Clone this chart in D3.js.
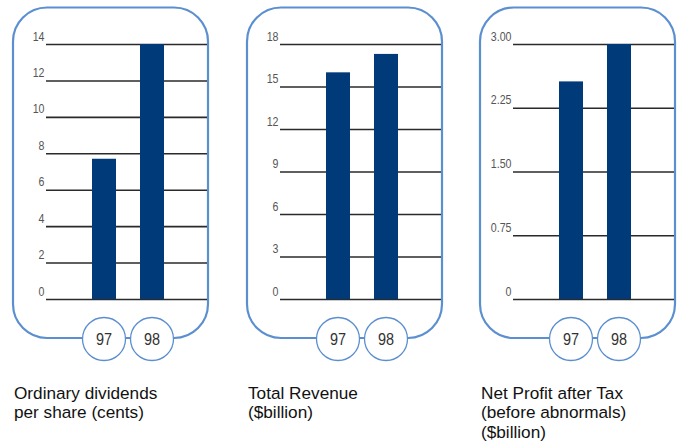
<!DOCTYPE html>
<html>
<head>
<meta charset="utf-8">
<script src="https://cdn.jsdelivr.net/npm/d3@7"></script>
<style>
  html, body { margin: 0; padding: 0; background: #fff; }
  svg { display: block; }
  .sans { font-family: 'Liberation Sans', Arial, sans-serif; }
</style>
</head>
<body>
<svg id="chart" width="680" height="447"></svg>
<script>
// Financial highlights, 1997 vs 1998
const years = ["97", "98"];

const dividends = [7.7, 14];          // cents per share
const revenue = [16.0, 17.3];         // $billion
const netProfit = [2.56, 3.0];        // $billion

const dividendTicks = [0, 2, 4, 6, 8, 10, 12, 14];
const revenueTicks = [0, 3, 6, 9, 12, 15, 18];
const profitTicks = [0, 0.75, 1.5, 2.25, 3.0];
const profitTickLabels = ["0", "0.75", "1.50", "2.25", "3.00"];

const dividendTitle = ["Ordinary dividends", "per share (cents)"];
const revenueTitle = ["Total Revenue", "($billion)"];
const profitTitle = ["Net Profit after Tax", "(before abnormals)", "($billion)"];

const panels = [
  { values: dividends, ticks: dividendTicks, labels: dividendTicks.map(String), max: 14, title: dividendTitle },
  { values: revenue, ticks: revenueTicks, labels: revenueTicks.map(String), max: 18, title: revenueTitle },
  { values: netProfit, ticks: profitTicks, labels: profitTickLabels, max: 3.0, title: profitTitle }
];

const svg = d3.select("#chart");
const frameLefts = [13, 247, 480];
const frameW = 195, frameTop = 7.5, frameBottom = 338, radius = 34;
const gridOffset = 33, gridW = 161;
const yTop = 44, yBottom = 299;
const blue = "#5b8fd0", barColor = "#003a78";

// narrow the small type horizontally to get a condensed face
const tickSqueeze = 0.85, badgeSqueeze = 0.85;

panels.forEach((p, i) => {
  const fx = frameLefts[i];
  const gx0 = fx + gridOffset;
  const g = svg.append("g");

  // rounded frame
  g.append("rect")
    .attr("x", fx).attr("y", frameTop)
    .attr("width", frameW).attr("height", frameBottom - frameTop)
    .attr("rx", radius).attr("ry", radius)
    .attr("fill", "none").attr("stroke", blue).attr("stroke-width", 2.2);

  const y = d3.scaleLinear().domain([0, p.max]).range([yBottom, yTop]);
  const x = d3.scaleBand().domain(years)
    .range([gx0 + 34, gx0 + 130]).paddingInner(0.5).paddingOuter(0.25);

  // gridlines with labels sitting just above each line
  const axis = d3.axisLeft(y)
    .tickValues(p.ticks)
    .tickSize(-gridW)
    .tickFormat((d, k) => p.labels[k]);

  const ax = g.append("g")
    .attr("transform", `translate(${gx0},0)`)
    .call(axis);
  ax.select(".domain").remove();
  ax.selectAll(".tick line")
    .attr("x1", 0).attr("x2", gridW)
    .attr("stroke", "#2a2a2a").attr("stroke-width", 1.6);
  ax.selectAll(".tick text")
    .attr("class", "sans")
    .attr("transform", `scale(${tickSqueeze},1)`)
    .attr("x", -1.5 / tickSqueeze).attr("y", -4).attr("dy", 0)
    .attr("fill", "#555").attr("font-size", 12.5);

  // bars
  g.selectAll("rect.bar")
    .data(p.values)
    .join("rect")
    .attr("class", "bar")
    .attr("x", (d, k) => x(years[k]))
    .attr("width", x.bandwidth())
    .attr("y", d => y(d))
    .attr("height", d => yBottom - y(d))
    .attr("fill", barColor);

  // year badges
  const badges = g.selectAll("g.badge")
    .data(years)
    .join("g")
    .attr("class", "badge")
    .attr("transform", d => `translate(${x(d) + x.bandwidth() / 2},339)`);
  badges.append("circle")
    .attr("r", 21.5)
    .attr("fill", "#fff").attr("stroke", blue).attr("stroke-width", 1.3);
  badges.append("text")
    .attr("class", "sans")
    .attr("transform", `scale(${badgeSqueeze},1)`)
    .attr("text-anchor", "middle").attr("y", 6)
    .attr("font-size", 17).attr("fill", "#333")
    .text(d => d);

  // caption
  g.append("text")
    .attr("class", "sans")
    .attr("x", fx + 1).attr("y", 399)
    .attr("font-size", 17.2).attr("fill", "#111")
    .selectAll("tspan")
    .data(p.title)
    .join("tspan")
    .attr("x", fx + 1)
    .attr("dy", (d, k) => k === 0 ? 0 : 19.4)
    .text(d => d);
});
</script>
</body>
</html>
